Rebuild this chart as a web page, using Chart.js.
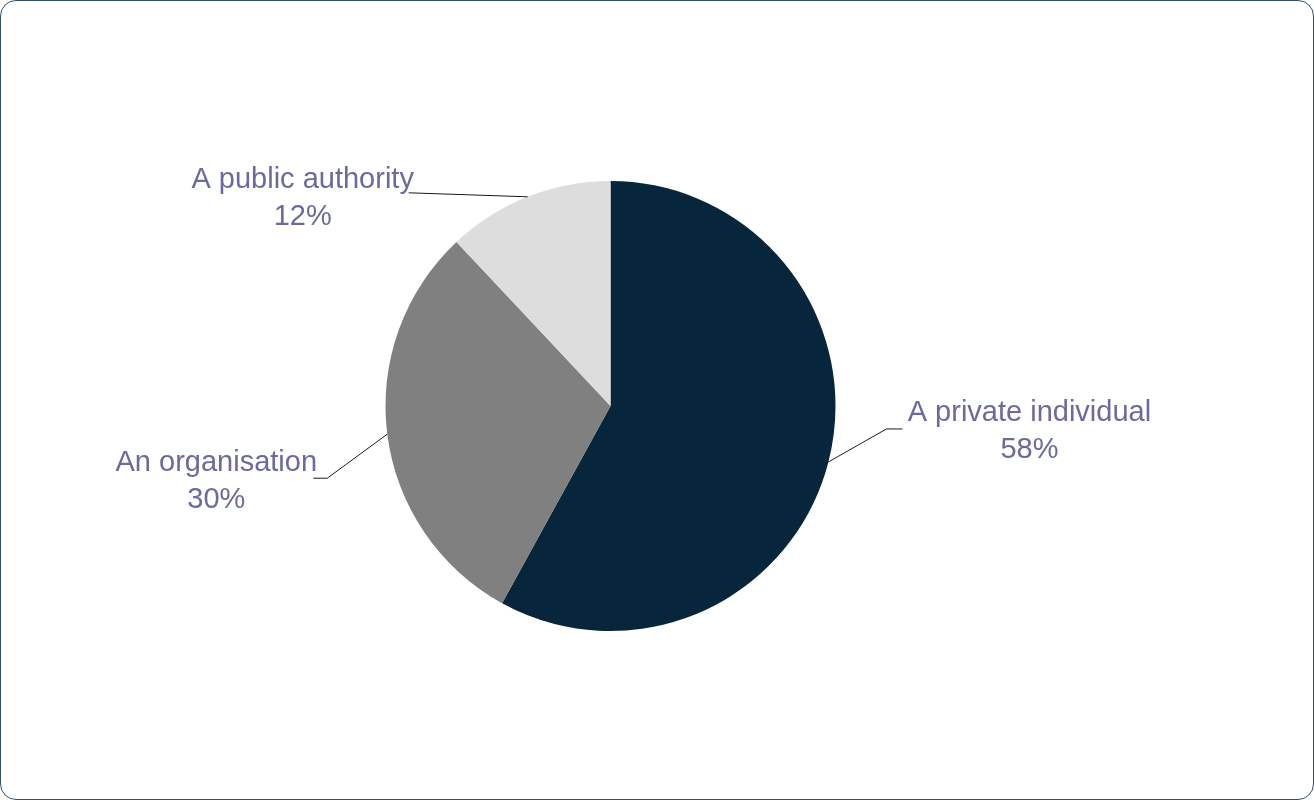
<!DOCTYPE html>
<html>
<head>
<meta charset="utf-8">
<script src="https://cdn.jsdelivr.net/npm/chart.js@4/dist/chart.umd.min.js"></script>
<style>
    html, body { margin: 0; padding: 0; background: #ffffff; }
    #wrap { position: relative; width: 1314px; height: 800px; }
    #pie_chart { position: absolute; left: 0; top: 0; }
    #frame {
        position: absolute; left: 0; top: 0; width: 1314px; height: 800px;
        box-sizing: border-box; border: 1.5px solid #34506b; border-radius: 16px;
        pointer-events: none;
    }
</style>
</head>
<body>
<div id="wrap">
    <canvas id="pie_chart" width="1314" height="800"></canvas>
    <div id="frame"></div>
</div>
<script>
var categories = ['A private individual', 'An organisation', 'A public authority'];
var shares = [58, 30, 12];
var sliceColors = ['#07263b', '#808080', '#dddddd'];

// where each label sits relative to the slice's edge midpoint (elbow, text anchor)
var labelLayout = [
    {elbow: [58, -33], end: [74, -33], text: [201, -41], align: 'center'},
    {elbow: [-60, 44], end: [-74, 44], text: [-171, 37], align: 'center'},
    {elbow: null, end: [-119, -4], text: [-225, -9], align: 'center'}
];

var leaderLabels = {
    id: 'leaderLabels',
    afterDatasetsDraw: function(chart){
        var ctx = chart.ctx;
        var meta = chart.getDatasetMeta(0);
        ctx.save();
        meta.data.forEach(function(arc, i){
            var p = arc.getProps(['x', 'y', 'startAngle', 'endAngle', 'outerRadius']);
            var mid = (p.startAngle + p.endAngle) / 2;
            var sx = p.x + Math.cos(mid) * p.outerRadius;
            var sy = p.y + Math.sin(mid) * p.outerRadius;
            var lay = labelLayout[i];

            ctx.strokeStyle = '#1a1a1a';
            ctx.lineWidth = 1;
            ctx.beginPath();
            ctx.moveTo(sx, sy);
            if(lay.elbow){
                ctx.lineTo(sx + lay.elbow[0], sy + lay.elbow[1]);
            }
            ctx.lineTo(sx + lay.end[0], sy + lay.end[1]);
            ctx.stroke();

            ctx.fillStyle = '#6a6a9e';
            ctx.font = '29px "Liberation Sans", Arial, sans-serif';
            ctx.textAlign = lay.align;
            ctx.textBaseline = 'alphabetic';
            var tx = sx + lay.text[0];
            var ty = sy + lay.text[1];
            ctx.fillText(categories[i], tx, ty);
            ctx.fillText(shares[i] + '%', tx, ty + 37);
        });
        ctx.restore();
    }
};

var chart = new Chart(document.getElementById('pie_chart').getContext('2d'), {
    type: 'pie',
    data: {
        labels: categories,
        datasets: [{
            data: shares,
            backgroundColor: sliceColors,
            borderWidth: 0
        }]
    },
    options: {
        responsive: false,
        animation: false,
        layout: {padding: {top: 181, bottom: 169, left: 385, right: 478}},
        plugins: {
            legend: {display: false},
            tooltip: {enabled: false}
        }
    },
    plugins: [leaderLabels]
});
</script>
</body>
</html>
